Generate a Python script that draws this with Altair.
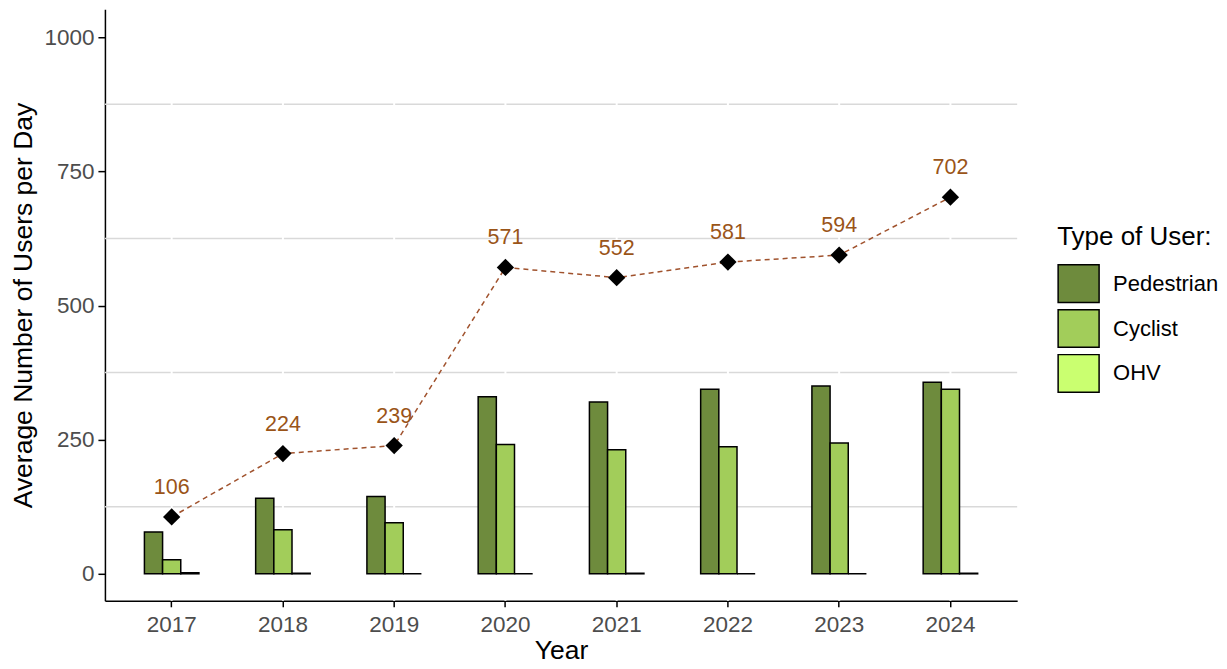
import altair as alt
import pandas as pd

years = ["2017", "2018", "2019", "2020", "2021", "2022", "2023", "2024"]
pedestrian = [78, 141, 144, 330, 320, 344, 350, 357]
cyclist = [26, 82, 95, 241, 231, 237, 244, 344]
ohv = [2, 1, 0, 0, 1, 0, 0, 1]
totals = [106, 224, 239, 571, 552, 581, 594, 702]
user_types = ["Pedestrian", "Cyclist", "OHV"]
type_colors = ["#6E8B3D", "#A2CD5A", "#CAFF70"]
grid_values = [125, 375, 625, 875]
y_ticks = [0, 250, 500, 750, 1000]

rows = []
for i, y in enumerate(years):
    for t, vals in zip(user_types, [pedestrian, cyclist, ohv]):
        rows.append({"Year": y, "Type": t, "Users": vals[i]})
bars_df = pd.DataFrame(rows)
tot_df = pd.DataFrame({"Year": years, "Total": totals})
grid_df = pd.DataFrame({"g": grid_values})

FONT = "Liberation Sans"
x_scale = alt.Scale(domain=years, paddingInner=0.51, paddingOuter=0.355)
y_scale = alt.Scale(domain=[-50.3, 1052.2], nice=False, zero=False)

x_enc = alt.X("Year:N", scale=x_scale, sort=years,
              axis=alt.Axis(title="Year", labelAngle=0, grid=False))
y_axis = alt.Axis(title="Average Number of Users per Day", values=y_ticks,
                  grid=False, format="d")

grid = alt.Chart(grid_df).mark_rule(color="#D9D9D9", strokeWidth=1.5).encode(
    y=alt.Y("g:Q", scale=y_scale, axis=y_axis)
)
gaps = alt.Chart(tot_df).mark_rule(color="white", strokeWidth=2).encode(
    x=x_enc
)

bars = alt.Chart(bars_df).mark_bar(stroke="black", strokeWidth=1.5).encode(
    x=x_enc,
    xOffset=alt.XOffset("Type:N", sort=user_types,
                        scale=alt.Scale(domain=user_types, paddingInner=0, paddingOuter=0)),
    y=alt.Y("Users:Q", scale=y_scale, axis=y_axis),
    fill=alt.Fill("Type:N", sort=user_types,
                  scale=alt.Scale(domain=user_types, range=type_colors),
                  legend=alt.Legend(title="Type of User:", orient="none",
                                    legendX=953, legendY=215)),
)

line = alt.Chart(tot_df).mark_line(color="#A0522D", strokeDash=[5, 4], strokeWidth=1.5).encode(
    x=x_enc, y=alt.Y("Total:Q", scale=y_scale, axis=y_axis)
)
points = alt.Chart(tot_df).mark_point(shape="diamond", filled=True, color="black",
                                      size=300, opacity=1).encode(
    x=x_enc, y=alt.Y("Total:Q", scale=y_scale, axis=y_axis)
)
labels = alt.Chart(tot_df).mark_text(dy=-29, fontSize=21.5, color="#9A5418", font=FONT).encode(
    x=x_enc, y=alt.Y("Total:Q", scale=y_scale, axis=y_axis),
    text=alt.Text("Total:Q")
)

chart = alt.layer(grid, gaps, bars, line, points, labels).properties(
    width=913, height=592,
    padding={"left": 2, "top": 0, "right": 0, "bottom": 0},
).configure_view(stroke=None).configure_axis(
    labelFont=FONT, titleFont=FONT, labelFontSize=22.5, titleFontSize=26.5,
    labelColor="#4D4D4D", titleColor="black", titleFontWeight="normal",
    domainColor="black", domainWidth=1.5, tickColor="black", tickWidth=1.5,
).configure_axisY(
    tickSize=7, labelPadding=4, titlePadding=6,
).configure_axisX(
    tickSize=6, labelPadding=7, titlePadding=1,
).configure_legend(
    titleFont=FONT, labelFont=FONT, titleFontSize=26, labelFontSize=22,
    titleFontWeight="normal", titleColor="black", labelColor="black",
    symbolType="M-1,-0.92H1V0.92H-1Z", symbolSize=1681, symbolStrokeColor="black",
    symbolStrokeWidth=1.5, symbolOpacity=1, labelOffset=13, titlePadding=12,
    rowPadding=0, padding=0,
)

chart.save("out.html", embed_options={"renderer": "svg", "actions": False})
